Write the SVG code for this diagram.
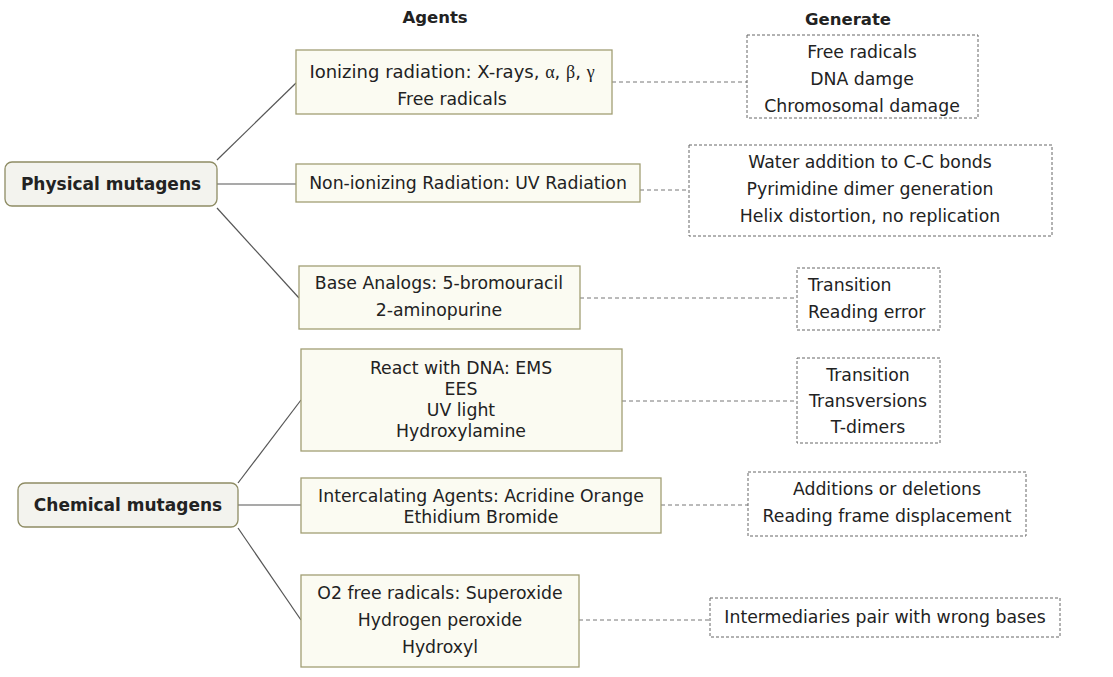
<svg xmlns="http://www.w3.org/2000/svg" width="1113" height="677" viewBox="0 0 1113 677">
  <style>
    text { font-family: "DejaVu Sans", Verdana, "Liberation Sans", sans-serif; font-size: 17.3px; fill: #222; text-anchor: middle; }
    .hdr { font-weight: bold; font-size: 16.5px; }
    .root text { font-weight: bold; font-size: 17px; }
    .root rect { fill: #f3f3ee; stroke: #8e8c64; stroke-width: 1.3; }
    .agent rect { fill: #fbfbf2; stroke: #a19e74; stroke-width: 1.3; }
    .effect rect { fill: #ffffff; stroke: #666; stroke-width: 1; stroke-dasharray: 3 2; }
    .effect .left { text-anchor: start; }
    .greek { font-family: "Liberation Serif", "DejaVu Serif", serif; }
    #connectors .solid { stroke: #555; stroke-width: 1.2; fill: none; }
    #connectors .dash { stroke: #777; stroke-width: 1; fill: none; stroke-dasharray: 4 3; }
  </style>
  <rect width="1113" height="677" fill="#ffffff"/>

  <!-- column headings -->
  <text class="hdr" x="435" y="23">Agents</text>
  <text class="hdr" x="848" y="25">Generate</text>

  <!-- connectors -->
  <g id="connectors">
    <line class="solid" x1="217" y1="160" x2="296" y2="83"/>
    <line class="solid" x1="217" y1="184" x2="296" y2="184"/>
    <line class="solid" x1="217" y1="208" x2="299" y2="298"/>
    <line class="solid" x1="238" y1="483" x2="301" y2="400"/>
    <line class="solid" x1="238" y1="505" x2="301" y2="505"/>
    <line class="solid" x1="238" y1="528" x2="301" y2="620"/>
    <line class="dash" x1="612" y1="82" x2="747" y2="82"/>
    <line class="dash" x1="640" y1="190" x2="689" y2="190"/>
    <line class="dash" x1="580" y1="298" x2="797" y2="298"/>
    <line class="dash" x1="622" y1="401" x2="797" y2="401"/>
    <line class="dash" x1="661" y1="505" x2="748" y2="505"/>
    <line class="dash" x1="579" y1="620" x2="710" y2="620"/>
  </g>

  <!-- root categories -->
  <g id="physical" class="root">
    <rect x="5" y="162" width="212" height="44" rx="7"/>
    <text x="111" y="190">Physical mutagens</text>
  </g>
  <g id="chemical" class="root">
    <rect x="18" y="483" width="220" height="44" rx="7"/>
    <text x="128" y="511">Chemical mutagens</text>
  </g>

  <!-- agents -->
  <g id="ionizing" class="agent">
    <rect x="296" y="50" width="316" height="64"/>
    <text x="452" y="78" style="font-size:18px">Ionizing radiation: X-rays, <tspan class="greek">α</tspan>, <tspan class="greek">β</tspan>, <tspan class="greek">γ</tspan></text>
    <text x="452" y="105">Free radicals</text>
  </g>
  <g id="nonionizing" class="agent">
    <rect x="296" y="164" width="344" height="38"/>
    <text x="468" y="189">Non-ionizing Radiation: UV Radiation</text>
  </g>
  <g id="baseanalogs" class="agent">
    <rect x="299" y="266" width="281" height="63"/>
    <text x="439" y="289">Base Analogs: 5-bromouracil</text>
    <text x="439" y="316">2-aminopurine</text>
  </g>
  <g id="reactdna" class="agent">
    <rect x="301" y="349" width="321" height="102"/>
    <text x="461" y="374">React with DNA: EMS</text>
    <text x="461" y="395">EES</text>
    <text x="461" y="416">UV light</text>
    <text x="461" y="437">Hydroxylamine</text>
  </g>
  <g id="intercalating" class="agent">
    <rect x="301" y="478" width="360" height="55"/>
    <text x="481" y="502">Intercalating Agents: Acridine Orange</text>
    <text x="481" y="523">Ethidium Bromide</text>
  </g>
  <g id="o2radicals" class="agent">
    <rect x="301" y="575" width="278" height="92"/>
    <text x="440" y="599">O2 free radicals: Superoxide</text>
    <text x="440" y="626">Hydrogen peroxide</text>
    <text x="440" y="653">Hydroxyl</text>
  </g>

  <!-- effects -->
  <g id="effect-ionizing" class="effect">
    <rect x="747" y="35" width="231" height="83"/>
    <text x="862" y="58">Free radicals</text>
    <text x="862" y="85">DNA damge</text>
    <text x="862" y="112">Chromosomal damage</text>
  </g>
  <g id="effect-uv" class="effect">
    <rect x="689" y="145" width="363" height="91"/>
    <text x="870" y="168">Water addition to C-C bonds</text>
    <text x="870" y="195">Pyrimidine dimer generation</text>
    <text x="870" y="222">Helix distortion, no replication</text>
  </g>
  <g id="effect-base" class="effect">
    <rect x="797" y="268" width="143" height="62"/>
    <text class="left" x="808" y="291">Transition</text>
    <text class="left" x="808" y="318">Reading error</text>
  </g>
  <g id="effect-react" class="effect">
    <rect x="797" y="358" width="143" height="85"/>
    <text x="868" y="381">Transition</text>
    <text x="868" y="407">Transversions</text>
    <text x="868" y="433">T-dimers</text>
  </g>
  <g id="effect-intercalating" class="effect">
    <rect x="748" y="472" width="278" height="64"/>
    <text x="887" y="495">Additions or deletions</text>
    <text x="887" y="522">Reading frame displacement</text>
  </g>
  <g id="effect-o2" class="effect">
    <rect x="710" y="598" width="350" height="39"/>
    <text x="885" y="623">Intermediaries pair with wrong bases</text>
  </g>
</svg>
